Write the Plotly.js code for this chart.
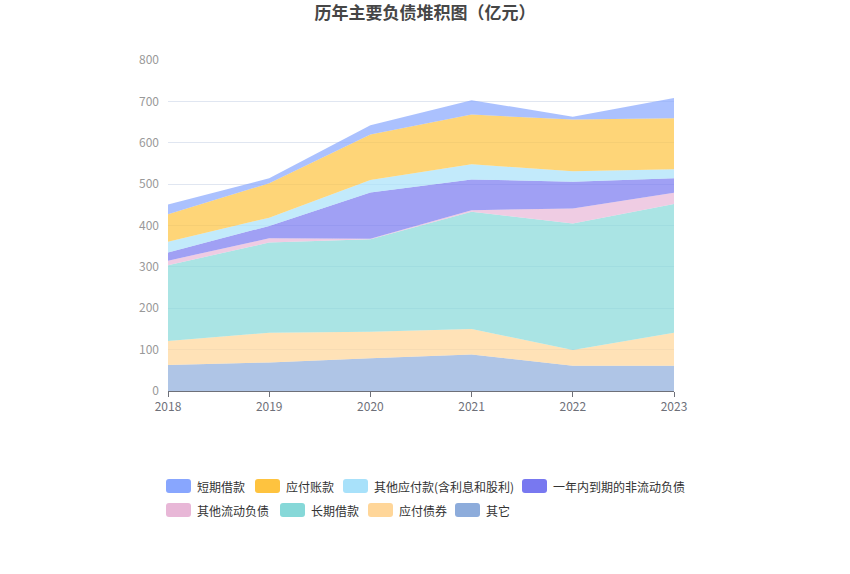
<!DOCTYPE html>
<html><head><meta charset="utf-8">
<script src="https://cdn.plot.ly/plotly-3.0.1.min.js"></script>
<style>html,body{margin:0;padding:0;background:#fff}#c{width:850px;height:574px}</style>
</head><body><div id="c"></div>
<script>
const years = [2018, 2019, 2020, 2021, 2022, 2023];
const seriesNames = ["其它", "应付债券", "长期借款", "其他流动负债", "一年内到期的非流动负债", "其他应付款(含利息和股利)", "应付账款", "短期借款"];
const qita = [63, 69, 79, 88, 61, 61];
const yingfuZhaiquan = [58, 72, 64, 62, 38, 80];
const changqiJiekuan = [183, 218, 224, 283, 306, 311];
const qitaLiudong = [11, 10, 1, 4, 36, 27];
const yinianNei = [20, 30, 112, 74, 65, 35];
const qitaYingfu = [26, 20, 30, 37, 25, 22];
const yingfuZhangkuan = [66, 83, 110, 120, 125, 123];
const duanqiJiekuan = [24, 12, 22, 35, 7, 49];
const seriesValues = [qita, yingfuZhaiquan, changqiJiekuan, qitaLiudong, yinianNei, qitaYingfu, yingfuZhangkuan, duanqiJiekuan];
const yTicks = [0, 100, 200, 300, 400, 500, 600, 700, 800];

const swatchColors = ["#8DACDB", "#FFD699", "#86D8D8", "#E8B7D7", "#7878F0", "#A8E1FA", "#FEC33F", "#88A6FE"];
const fillColors = ["rgba(141,172,219,0.7)", "rgba(255,214,153,0.7)", "rgba(134,216,216,0.7)", "rgba(232,183,215,0.7)", "rgba(120,120,240,0.7)", "rgba(168,225,250,0.7)", "rgba(254,195,63,0.7)", "rgba(136,166,254,0.7)"];

const traces = seriesNames.map((n, i) => ({
  x: years, y: seriesValues[i], name: n, type: "scatter", mode: "lines",
  stackgroup: "one", fillcolor: fillColors[i],
  line: {width: 0, color: fillColors[i]}, hoverinfo: "x+y+name"
}));

// plot area in pixels
const PL = 168, PR = 674, PT = 60, PB = 391;
const X = v => (v - PL) / (PR - PL), Y = v => (PB - v) / (PB - PT);

// custom legend (display order = reversed stack order)
const legendOrder = [7, 6, 5, 4, 3, 2, 1, 0];
const legendPos = [[166, 486], [255, 486], [343, 486], [522, 486], [166, 510], [280, 510], [368, 510], [455, 510]];
const shapes = [], annotations = [];
function rr(x0, y0, x1, y1, r) {
  return `M${X(x0 + r)},${Y(y0)} L${X(x1 - r)},${Y(y0)} Q${X(x1)},${Y(y0)} ${X(x1)},${Y(y0 + r)} L${X(x1)},${Y(y1 - r)} Q${X(x1)},${Y(y1)} ${X(x1 - r)},${Y(y1)} L${X(x0 + r)},${Y(y1)} Q${X(x0)},${Y(y1)} ${X(x0)},${Y(y1 - r)} L${X(x0)},${Y(y0 + r)} Q${X(x0)},${Y(y0)} ${X(x0 + r)},${Y(y0)} Z`;
}
legendOrder.forEach((si, k) => {
  const [px, py] = legendPos[k];
  shapes.push({type: "path", xref: "paper", yref: "paper", path: rr(px, py - 7, px + 25, py + 7, 3),
    fillcolor: swatchColors[si], line: {width: 0}});
  annotations.push({xref: "paper", yref: "paper", x: X(px + 29), y: Y(py), xanchor: "left", yanchor: "middle",
    text: seriesNames[si], showarrow: false, font: {size: 12, color: "#333", family: "Noto Sans CJK SC, sans-serif"}});
});

const layout = {
  width: 850, height: 574,
  margin: {l: PL, r: 850 - PR, t: PT, b: 574 - PB},
  paper_bgcolor: "#fff", plot_bgcolor: "#fff",
  font: {family: "Noto Sans CJK SC, sans-serif"},
  title: {text: "<b>历年主要负债堆积图（亿元）</b>", x: 0.5, xanchor: "center", y: 0.977, yanchor: "middle",
    font: {size: 17, color: "#464646", family: "Noto Sans CJK SC, sans-serif"}},
  showlegend: false,
  xaxis: {range: [2018, 2023], tickvals: years, ticktext: years.map(String), showgrid: false, zeroline: false,
    showline: true, linecolor: "#6E7079", linewidth: 1, ticks: "outside", ticklen: 5, tickcolor: "#6E7079",
    tickfont: {size: 12, color: "#6E7079"}, fixedrange: true},
  yaxis: {range: [0, 800], tickvals: yTicks, showgrid: true, gridcolor: "#E0E6F1", zeroline: false,
    showline: false, ticks: "", ticklabelstandoff: 8, tickfont: {size: 12, color: "#999"}, fixedrange: true},
  shapes: shapes, annotations: annotations
};
Plotly.newPlot("c", traces, layout, {displayModeBar: false, staticPlot: true});
</script></body></html>
